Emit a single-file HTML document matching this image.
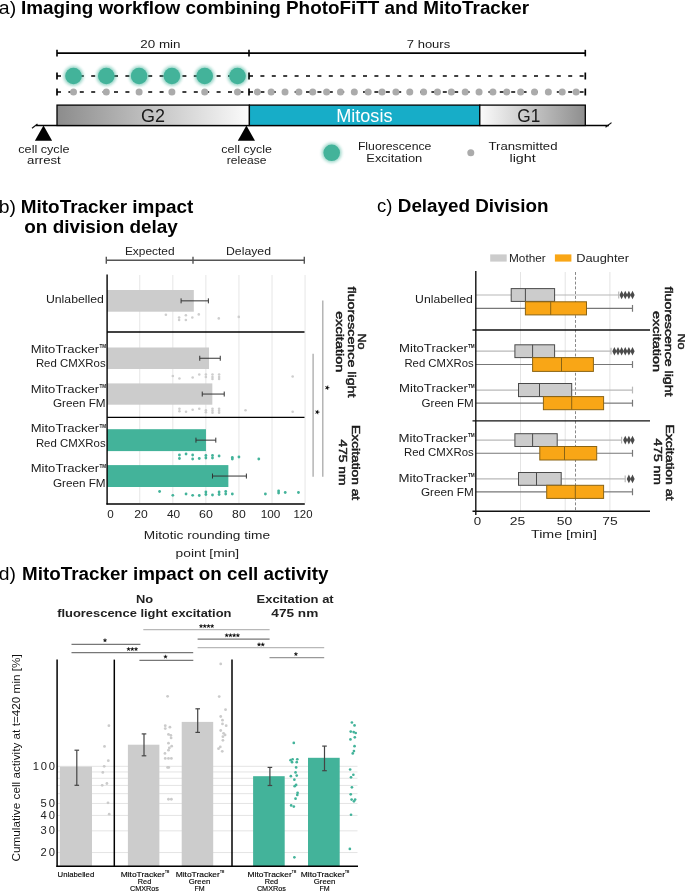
<!DOCTYPE html>
<html><head><meta charset="utf-8"><title>Figure</title>
<style>
html,body{margin:0;padding:0;background:#fff;}
body{width:685px;height:892px;overflow:hidden;font-family:"Liberation Sans",sans-serif;}
svg{display:block;font-family:"Liberation Sans",sans-serif;}
</style></head><body>
<svg width="685" height="892" viewBox="0 0 685 892">
<rect width="685" height="892" fill="#fff"/>
<g opacity="0.999">
<defs>
<linearGradient id="g2" x1="0" x2="1" y1="0" y2="0"><stop offset="0" stop-color="#8c8c8c"/><stop offset="1" stop-color="#fbfbfb"/></linearGradient>
<linearGradient id="g1" x1="0" x2="1" y1="0" y2="0"><stop offset="0" stop-color="#fbfbfb"/><stop offset="1" stop-color="#8e8e8e"/></linearGradient>
<filter id="glow" x="-50%" y="-50%" width="200%" height="200%"><feGaussianBlur stdDeviation="1.6"/></filter>
</defs>
<text x="-1.20" y="14.20" font-size="18.7" text-anchor="start" font-weight="normal" fill="#000"  textLength="17.30" lengthAdjust="spacingAndGlyphs">a)</text>
<text x="20.90" y="14.20" font-size="18.7" text-anchor="start" font-weight="bold" fill="#000"  textLength="508.30" lengthAdjust="spacingAndGlyphs">Imaging workflow combining PhotoFiTT and MitoTracker</text>
<line x1="57.00" y1="53.10" x2="585.30" y2="53.10" stroke="#000" stroke-width="1.6" />
<line x1="57.00" y1="49.80" x2="57.00" y2="56.40" stroke="#000" stroke-width="1.6" />
<line x1="249.00" y1="49.80" x2="249.00" y2="56.40" stroke="#000" stroke-width="1.6" />
<line x1="585.30" y1="49.80" x2="585.30" y2="56.40" stroke="#000" stroke-width="1.6" />
<text x="140.30" y="47.60" font-size="11.5" text-anchor="start" font-weight="normal" fill="#1a1a1a"  textLength="40.20" lengthAdjust="spacingAndGlyphs">20 min</text>
<text x="406.80" y="47.60" font-size="11.5" text-anchor="start" font-weight="normal" fill="#1a1a1a"  textLength="43.40" lengthAdjust="spacingAndGlyphs">7 hours</text>
<line x1="57.00" y1="76.00" x2="249.00" y2="76.00" stroke="#000" stroke-width="1.5" stroke-dasharray="4 7.4"/>
<line x1="249.00" y1="76.00" x2="585.30" y2="76.00" stroke="#000" stroke-width="1.5" stroke-dasharray="4 7.4"/>
<line x1="57.00" y1="92.00" x2="249.00" y2="92.00" stroke="#000" stroke-width="1.5" stroke-dasharray="4 7.4"/>
<line x1="249.00" y1="92.00" x2="585.30" y2="92.00" stroke="#000" stroke-width="1.5" stroke-dasharray="4 7.4"/>
<line x1="57.00" y1="72.50" x2="57.00" y2="79.50" stroke="#000" stroke-width="1.7" />
<line x1="57.00" y1="88.50" x2="57.00" y2="95.50" stroke="#000" stroke-width="1.7" />
<line x1="249.00" y1="72.50" x2="249.00" y2="79.50" stroke="#000" stroke-width="1.7" />
<line x1="249.00" y1="88.50" x2="249.00" y2="95.50" stroke="#000" stroke-width="1.7" />
<line x1="585.30" y1="72.50" x2="585.30" y2="79.50" stroke="#000" stroke-width="1.7" />
<line x1="585.30" y1="88.50" x2="585.30" y2="95.50" stroke="#000" stroke-width="1.7" />
<circle cx="73.50" cy="76.00" r="10" fill="#43b39a" opacity="0.55" filter="url(#glow)"/>
<circle cx="73.50" cy="76.00" r="8.3" fill="#43b39a" />
<circle cx="73.50" cy="92.00" r="3.5" fill="#ababab" />
<circle cx="106.30" cy="76.00" r="10" fill="#43b39a" opacity="0.55" filter="url(#glow)"/>
<circle cx="106.30" cy="76.00" r="8.3" fill="#43b39a" />
<circle cx="106.30" cy="92.00" r="3.5" fill="#ababab" />
<circle cx="139.10" cy="76.00" r="10" fill="#43b39a" opacity="0.55" filter="url(#glow)"/>
<circle cx="139.10" cy="76.00" r="8.3" fill="#43b39a" />
<circle cx="139.10" cy="92.00" r="3.5" fill="#ababab" />
<circle cx="171.90" cy="76.00" r="10" fill="#43b39a" opacity="0.55" filter="url(#glow)"/>
<circle cx="171.90" cy="76.00" r="8.3" fill="#43b39a" />
<circle cx="171.90" cy="92.00" r="3.5" fill="#ababab" />
<circle cx="204.70" cy="76.00" r="10" fill="#43b39a" opacity="0.55" filter="url(#glow)"/>
<circle cx="204.70" cy="76.00" r="8.3" fill="#43b39a" />
<circle cx="204.70" cy="92.00" r="3.5" fill="#ababab" />
<circle cx="237.50" cy="76.00" r="10" fill="#43b39a" opacity="0.55" filter="url(#glow)"/>
<circle cx="237.50" cy="76.00" r="8.3" fill="#43b39a" />
<circle cx="237.50" cy="92.00" r="3.5" fill="#ababab" />
<circle cx="257.30" cy="92.00" r="3.5" fill="#ababab" />
<circle cx="271.16" cy="92.00" r="3.5" fill="#ababab" />
<circle cx="285.02" cy="92.00" r="3.5" fill="#ababab" />
<circle cx="298.88" cy="92.00" r="3.5" fill="#ababab" />
<circle cx="312.74" cy="92.00" r="3.5" fill="#ababab" />
<circle cx="326.60" cy="92.00" r="3.5" fill="#ababab" />
<circle cx="340.46" cy="92.00" r="3.5" fill="#ababab" />
<circle cx="354.32" cy="92.00" r="3.5" fill="#ababab" />
<circle cx="368.18" cy="92.00" r="3.5" fill="#ababab" />
<circle cx="382.04" cy="92.00" r="3.5" fill="#ababab" />
<circle cx="395.90" cy="92.00" r="3.5" fill="#ababab" />
<circle cx="409.76" cy="92.00" r="3.5" fill="#ababab" />
<circle cx="423.62" cy="92.00" r="3.5" fill="#ababab" />
<circle cx="437.48" cy="92.00" r="3.5" fill="#ababab" />
<circle cx="451.34" cy="92.00" r="3.5" fill="#ababab" />
<circle cx="465.20" cy="92.00" r="3.5" fill="#ababab" />
<circle cx="479.06" cy="92.00" r="3.5" fill="#ababab" />
<circle cx="492.92" cy="92.00" r="3.5" fill="#ababab" />
<circle cx="506.78" cy="92.00" r="3.5" fill="#ababab" />
<circle cx="520.64" cy="92.00" r="3.5" fill="#ababab" />
<circle cx="534.50" cy="92.00" r="3.5" fill="#ababab" />
<circle cx="548.36" cy="92.00" r="3.5" fill="#ababab" />
<circle cx="562.22" cy="92.00" r="3.5" fill="#ababab" />
<circle cx="576.08" cy="92.00" r="3.5" fill="#ababab" />
<line x1="36.00" y1="125.50" x2="609.00" y2="125.50" stroke="#000" stroke-width="1.3" />
<line x1="32.00" y1="128.30" x2="37.50" y2="124.00" stroke="#111" stroke-width="1.2" />
<line x1="605.50" y1="127.30" x2="611.50" y2="122.60" stroke="#111" stroke-width="1.2" />
<rect x="57.00" y="105.10" width="192.40" height="20.40" fill="url(#g2)" stroke="#000" stroke-width="1.3" />
<rect x="249.40" y="105.10" width="230.40" height="20.40" fill="#17adc8" stroke="#000" stroke-width="1.3" />
<rect x="479.80" y="105.10" width="105.50" height="20.40" fill="url(#g1)" stroke="#000" stroke-width="1.3" />
<text x="141.00" y="121.60" font-size="17.8" text-anchor="start" font-weight="normal" fill="#1a1a1a"  textLength="24.00" lengthAdjust="spacingAndGlyphs">G2</text>
<text x="336.20" y="121.60" font-size="17.8" text-anchor="start" font-weight="normal" fill="#fff"  textLength="56.30" lengthAdjust="spacingAndGlyphs">Mitosis</text>
<text x="517.30" y="121.60" font-size="17.8" text-anchor="start" font-weight="normal" fill="#1a1a1a"  textLength="23.10" lengthAdjust="spacingAndGlyphs">G1</text>
<polygon points="43.5,125.6 34.9,140.7 52.1,140.7" fill="#000"/>
<polygon points="246.4,125.6 237.8,140.7 255.0,140.7" fill="#000"/>
<text x="18.30" y="152.80" font-size="11.5" text-anchor="start" font-weight="normal" fill="#1a1a1a"  textLength="51.20" lengthAdjust="spacingAndGlyphs">cell cycle</text>
<text x="27.10" y="164.00" font-size="11.5" text-anchor="start" font-weight="normal" fill="#1a1a1a"  textLength="33.70" lengthAdjust="spacingAndGlyphs">arrest</text>
<text x="221.20" y="152.80" font-size="11.5" text-anchor="start" font-weight="normal" fill="#1a1a1a"  textLength="50.80" lengthAdjust="spacingAndGlyphs">cell cycle</text>
<text x="226.80" y="164.00" font-size="11.5" text-anchor="start" font-weight="normal" fill="#1a1a1a"  textLength="39.60" lengthAdjust="spacingAndGlyphs">release</text>
<circle cx="331.70" cy="152.80" r="10" fill="#43b39a" opacity="0.5" filter="url(#glow)"/>
<circle cx="331.70" cy="152.80" r="8.3" fill="#43b39a" />
<text x="357.90" y="150.40" font-size="11.5" text-anchor="start" font-weight="normal" fill="#1a1a1a"  textLength="73.50" lengthAdjust="spacingAndGlyphs">Fluorescence</text>
<text x="366.30" y="161.60" font-size="11.5" text-anchor="start" font-weight="normal" fill="#1a1a1a"  textLength="56.00" lengthAdjust="spacingAndGlyphs">Excitation</text>
<circle cx="470.80" cy="152.80" r="3.5" fill="#ababab" />
<text x="488.50" y="150.40" font-size="11.5" text-anchor="start" font-weight="normal" fill="#1a1a1a"  textLength="69.00" lengthAdjust="spacingAndGlyphs">Transmitted</text>
<text x="509.50" y="161.60" font-size="11.5" text-anchor="start" font-weight="normal" fill="#1a1a1a"  textLength="26.30" lengthAdjust="spacingAndGlyphs">light</text>
<text x="-1.20" y="213.20" font-size="18.7" text-anchor="start" font-weight="normal" fill="#000"  textLength="17.20" lengthAdjust="spacingAndGlyphs">b)</text>
<text x="20.80" y="213.20" font-size="18.7" text-anchor="start" font-weight="bold" fill="#000"  textLength="172.50" lengthAdjust="spacingAndGlyphs">MitoTracker impact</text>
<text x="24.30" y="232.50" font-size="18.7" text-anchor="start" font-weight="bold" fill="#000"  textLength="153.60" lengthAdjust="spacingAndGlyphs">on division delay</text>
<line x1="106.00" y1="260.20" x2="304.50" y2="260.20" stroke="#555" stroke-width="1.4" />
<line x1="106.30" y1="256.70" x2="106.30" y2="263.70" stroke="#555" stroke-width="1.4" />
<line x1="193.00" y1="256.70" x2="193.00" y2="263.70" stroke="#555" stroke-width="1.4" />
<line x1="304.30" y1="256.70" x2="304.30" y2="263.70" stroke="#555" stroke-width="1.4" />
<text x="124.90" y="254.60" font-size="11.5" text-anchor="start" font-weight="normal" fill="#222"  textLength="49.70" lengthAdjust="spacingAndGlyphs">Expected</text>
<text x="226.00" y="254.60" font-size="11.5" text-anchor="start" font-weight="normal" fill="#222"  textLength="45.00" lengthAdjust="spacingAndGlyphs">Delayed</text>
<line x1="139.76" y1="275.00" x2="139.76" y2="503.00" stroke="#e6e6e6" stroke-width="1" />
<line x1="172.82" y1="275.00" x2="172.82" y2="503.00" stroke="#e6e6e6" stroke-width="1" />
<line x1="205.88" y1="275.00" x2="205.88" y2="503.00" stroke="#e6e6e6" stroke-width="1" />
<line x1="238.94" y1="275.00" x2="238.94" y2="503.00" stroke="#e6e6e6" stroke-width="1" />
<line x1="272.00" y1="275.00" x2="272.00" y2="503.00" stroke="#e6e6e6" stroke-width="1" />
<line x1="305.06" y1="275.00" x2="305.06" y2="503.00" stroke="#e6e6e6" stroke-width="1" />
<rect x="107.10" y="290.00" width="86.71" height="21.70" fill="#cccccc" stroke="none" stroke-width="0" />
<line x1="181.09" y1="300.85" x2="208.36" y2="300.85" stroke="#333" stroke-width="1" />
<line x1="181.09" y1="298.35" x2="181.09" y2="303.35" stroke="#333" stroke-width="1" />
<line x1="208.36" y1="298.35" x2="208.36" y2="303.35" stroke="#333" stroke-width="1" />
<rect x="107.10" y="347.50" width="101.92" height="21.50" fill="#cccccc" stroke="none" stroke-width="0" />
<line x1="199.76" y1="358.25" x2="220.26" y2="358.25" stroke="#333" stroke-width="1" />
<line x1="199.76" y1="355.75" x2="199.76" y2="360.75" stroke="#333" stroke-width="1" />
<line x1="220.26" y1="355.75" x2="220.26" y2="360.75" stroke="#333" stroke-width="1" />
<rect x="107.10" y="383.40" width="105.23" height="21.30" fill="#cccccc" stroke="none" stroke-width="0" />
<line x1="202.24" y1="394.05" x2="224.23" y2="394.05" stroke="#333" stroke-width="1" />
<line x1="202.24" y1="391.55" x2="202.24" y2="396.55" stroke="#333" stroke-width="1" />
<line x1="224.23" y1="391.55" x2="224.23" y2="396.55" stroke="#333" stroke-width="1" />
<rect x="107.10" y="429.20" width="98.86" height="21.90" fill="#43b39a" stroke="none" stroke-width="0" />
<line x1="195.96" y1="440.15" x2="215.80" y2="440.15" stroke="#333" stroke-width="1" />
<line x1="195.96" y1="437.65" x2="195.96" y2="442.65" stroke="#333" stroke-width="1" />
<line x1="215.80" y1="437.65" x2="215.80" y2="442.65" stroke="#333" stroke-width="1" />
<rect x="107.10" y="465.10" width="121.26" height="21.90" fill="#43b39a" stroke="none" stroke-width="0" />
<line x1="212.49" y1="476.05" x2="246.38" y2="476.05" stroke="#333" stroke-width="1" />
<line x1="212.49" y1="473.55" x2="212.49" y2="478.55" stroke="#333" stroke-width="1" />
<line x1="246.38" y1="473.55" x2="246.38" y2="478.55" stroke="#333" stroke-width="1" />
<circle cx="165.88" cy="314.70" r="1.3" fill="#cecece" />
<circle cx="179.10" cy="317.50" r="1.3" fill="#cecece" />
<circle cx="179.10" cy="320.00" r="1.3" fill="#cecece" />
<circle cx="185.88" cy="315.30" r="1.3" fill="#cecece" />
<circle cx="185.88" cy="320.00" r="1.3" fill="#cecece" />
<circle cx="192.33" cy="317.50" r="1.3" fill="#cecece" />
<circle cx="198.77" cy="314.40" r="1.3" fill="#cecece" />
<circle cx="218.77" cy="318.40" r="1.3" fill="#cecece" />
<circle cx="238.77" cy="316.90" r="1.3" fill="#cecece" />
<circle cx="172.82" cy="376.00" r="1.3" fill="#cecece" />
<circle cx="179.43" cy="378.50" r="1.3" fill="#cecece" />
<circle cx="192.66" cy="377.50" r="1.3" fill="#cecece" />
<circle cx="199.27" cy="374.50" r="1.3" fill="#cecece" />
<circle cx="205.88" cy="374.50" r="1.3" fill="#cecece" />
<circle cx="205.88" cy="377.00" r="1.3" fill="#cecece" />
<circle cx="212.49" cy="374.50" r="1.3" fill="#cecece" />
<circle cx="212.49" cy="377.00" r="1.3" fill="#cecece" />
<circle cx="212.49" cy="379.00" r="1.3" fill="#cecece" />
<circle cx="219.10" cy="374.50" r="1.3" fill="#cecece" />
<circle cx="219.10" cy="377.00" r="1.3" fill="#cecece" />
<circle cx="219.10" cy="379.00" r="1.3" fill="#cecece" />
<circle cx="292.66" cy="376.50" r="1.3" fill="#cecece" />
<circle cx="179.43" cy="408.80" r="1.3" fill="#cecece" />
<circle cx="179.43" cy="411.30" r="1.3" fill="#cecece" />
<circle cx="186.04" cy="411.80" r="1.3" fill="#cecece" />
<circle cx="192.66" cy="409.80" r="1.3" fill="#cecece" />
<circle cx="199.27" cy="408.80" r="1.3" fill="#cecece" />
<circle cx="205.88" cy="410.30" r="1.3" fill="#cecece" />
<circle cx="205.88" cy="412.30" r="1.3" fill="#cecece" />
<circle cx="212.49" cy="408.80" r="1.3" fill="#cecece" />
<circle cx="212.49" cy="410.80" r="1.3" fill="#cecece" />
<circle cx="212.49" cy="412.80" r="1.3" fill="#cecece" />
<circle cx="219.10" cy="408.80" r="1.3" fill="#cecece" />
<circle cx="219.10" cy="410.80" r="1.3" fill="#cecece" />
<circle cx="219.10" cy="412.80" r="1.3" fill="#cecece" />
<circle cx="245.55" cy="410.30" r="1.3" fill="#cecece" />
<circle cx="292.66" cy="411.80" r="1.3" fill="#cecece" />
<circle cx="179.43" cy="455.00" r="1.4" fill="#43b39a" />
<circle cx="179.43" cy="458.50" r="1.4" fill="#43b39a" />
<circle cx="186.04" cy="454.00" r="1.4" fill="#43b39a" />
<circle cx="192.66" cy="455.00" r="1.4" fill="#43b39a" />
<circle cx="192.66" cy="459.00" r="1.4" fill="#43b39a" />
<circle cx="199.27" cy="458.50" r="1.4" fill="#43b39a" />
<circle cx="205.88" cy="455.50" r="1.4" fill="#43b39a" />
<circle cx="205.88" cy="458.00" r="1.4" fill="#43b39a" />
<circle cx="212.49" cy="455.50" r="1.4" fill="#43b39a" />
<circle cx="212.49" cy="458.00" r="1.4" fill="#43b39a" />
<circle cx="219.10" cy="456.00" r="1.4" fill="#43b39a" />
<circle cx="232.33" cy="457.50" r="1.4" fill="#43b39a" />
<circle cx="232.33" cy="459.00" r="1.4" fill="#43b39a" />
<circle cx="238.94" cy="457.00" r="1.4" fill="#43b39a" />
<circle cx="258.78" cy="459.00" r="1.4" fill="#43b39a" />
<circle cx="159.60" cy="491.50" r="1.4" fill="#43b39a" />
<circle cx="172.82" cy="495.30" r="1.4" fill="#43b39a" />
<circle cx="186.04" cy="494.00" r="1.4" fill="#43b39a" />
<circle cx="192.66" cy="495.30" r="1.4" fill="#43b39a" />
<circle cx="199.27" cy="495.50" r="1.4" fill="#43b39a" />
<circle cx="205.88" cy="492.00" r="1.4" fill="#43b39a" />
<circle cx="205.88" cy="494.50" r="1.4" fill="#43b39a" />
<circle cx="212.49" cy="495.00" r="1.4" fill="#43b39a" />
<circle cx="219.10" cy="492.00" r="1.4" fill="#43b39a" />
<circle cx="219.10" cy="494.50" r="1.4" fill="#43b39a" />
<circle cx="225.72" cy="491.50" r="1.4" fill="#43b39a" />
<circle cx="225.72" cy="494.00" r="1.4" fill="#43b39a" />
<circle cx="232.33" cy="494.00" r="1.4" fill="#43b39a" />
<circle cx="265.39" cy="494.00" r="1.4" fill="#43b39a" />
<circle cx="278.61" cy="491.00" r="1.4" fill="#43b39a" />
<circle cx="278.61" cy="493.00" r="1.4" fill="#43b39a" />
<circle cx="285.22" cy="492.50" r="1.4" fill="#43b39a" />
<circle cx="298.45" cy="492.50" r="1.4" fill="#43b39a" />
<line x1="107.10" y1="274.50" x2="107.10" y2="504.60" stroke="#000" stroke-width="1.4" />
<line x1="106.40" y1="504.00" x2="304.80" y2="504.00" stroke="#000" stroke-width="1.4" />
<line x1="107.10" y1="332.00" x2="304.50" y2="332.00" stroke="#000" stroke-width="1.3" />
<line x1="107.10" y1="417.40" x2="304.50" y2="417.40" stroke="#000" stroke-width="1.3" />
<text x="107.20" y="518.10" font-size="11.2" text-anchor="start" font-weight="normal" fill="#222"  textLength="6.50" lengthAdjust="spacingAndGlyphs">0</text>
<text x="134.20" y="518.10" font-size="11.2" text-anchor="start" font-weight="normal" fill="#222"  textLength="13.50" lengthAdjust="spacingAndGlyphs">20</text>
<text x="166.90" y="518.10" font-size="11.2" text-anchor="start" font-weight="normal" fill="#222"  textLength="13.20" lengthAdjust="spacingAndGlyphs">40</text>
<text x="199.10" y="518.10" font-size="11.2" text-anchor="start" font-weight="normal" fill="#222"  textLength="13.80" lengthAdjust="spacingAndGlyphs">60</text>
<text x="232.10" y="518.10" font-size="11.2" text-anchor="start" font-weight="normal" fill="#222"  textLength="13.60" lengthAdjust="spacingAndGlyphs">80</text>
<text x="260.70" y="518.10" font-size="11.2" text-anchor="start" font-weight="normal" fill="#222"  textLength="19.60" lengthAdjust="spacingAndGlyphs">100</text>
<text x="293.50" y="518.10" font-size="11.2" text-anchor="start" font-weight="normal" fill="#222"  textLength="19.00" lengthAdjust="spacingAndGlyphs">120</text>
<text x="143.80" y="539.30" font-size="11.5" text-anchor="start" font-weight="normal" fill="#222"  textLength="126.30" lengthAdjust="spacingAndGlyphs">Mitotic rounding time</text>
<text x="175.60" y="556.70" font-size="11.5" text-anchor="start" font-weight="normal" fill="#222"  textLength="63.60" lengthAdjust="spacingAndGlyphs">point [min]</text>
<text x="45.90" y="302.80" font-size="11.5" text-anchor="start" font-weight="normal" fill="#1a1a1a"  textLength="58.00" lengthAdjust="spacingAndGlyphs">Unlabelled</text>
<text x="30.70" y="352.70" font-size="11.5" text-anchor="start" font-weight="normal" fill="#1a1a1a"  textLength="68.54" lengthAdjust="spacingAndGlyphs">MitoTracker</text>
<text x="99.39" y="348.21" font-size="5.75" text-anchor="start" font-weight="bold" fill="#1a1a1a"  textLength="6.71" lengthAdjust="spacingAndGlyphs">TM</text>
<text x="35.90" y="366.70" font-size="11.5" text-anchor="start" font-weight="normal" fill="#1a1a1a"  textLength="69.70" lengthAdjust="spacingAndGlyphs">Red CMXRos</text>
<text x="30.70" y="392.50" font-size="11.5" text-anchor="start" font-weight="normal" fill="#1a1a1a"  textLength="68.54" lengthAdjust="spacingAndGlyphs">MitoTracker</text>
<text x="99.39" y="388.01" font-size="5.75" text-anchor="start" font-weight="bold" fill="#1a1a1a"  textLength="6.71" lengthAdjust="spacingAndGlyphs">TM</text>
<text x="52.90" y="407.00" font-size="11.5" text-anchor="start" font-weight="normal" fill="#1a1a1a"  textLength="52.70" lengthAdjust="spacingAndGlyphs">Green FM</text>
<text x="30.70" y="432.40" font-size="11.5" text-anchor="start" font-weight="normal" fill="#1a1a1a"  textLength="68.54" lengthAdjust="spacingAndGlyphs">MitoTracker</text>
<text x="99.39" y="427.91" font-size="5.75" text-anchor="start" font-weight="bold" fill="#1a1a1a"  textLength="6.71" lengthAdjust="spacingAndGlyphs">TM</text>
<text x="35.90" y="446.80" font-size="11.5" text-anchor="start" font-weight="normal" fill="#1a1a1a"  textLength="69.70" lengthAdjust="spacingAndGlyphs">Red CMXRos</text>
<text x="30.70" y="472.40" font-size="11.5" text-anchor="start" font-weight="normal" fill="#1a1a1a"  textLength="68.54" lengthAdjust="spacingAndGlyphs">MitoTracker</text>
<text x="99.39" y="467.91" font-size="5.75" text-anchor="start" font-weight="bold" fill="#1a1a1a"  textLength="6.71" lengthAdjust="spacingAndGlyphs">TM</text>
<text x="52.90" y="486.80" font-size="11.5" text-anchor="start" font-weight="normal" fill="#1a1a1a"  textLength="52.70" lengthAdjust="spacingAndGlyphs">Green FM</text>
<line x1="322.80" y1="300.40" x2="322.80" y2="476.70" stroke="#a8a8a8" stroke-width="1.3" />
<line x1="313.10" y1="353.70" x2="313.10" y2="476.70" stroke="#a8a8a8" stroke-width="1.3" />
<polygon points="329.50,387.70 327.85,388.17 327.91,389.89 326.95,388.46 325.34,389.05 326.40,387.70 325.34,386.35 326.95,386.94 327.91,385.51 327.85,387.23" fill="#000" stroke="#000" stroke-width="0.35" stroke-linejoin="round"/>
<polygon points="319.60,412.10 317.95,412.57 318.01,414.29 317.05,412.86 315.44,413.45 316.50,412.10 315.44,410.75 317.05,411.34 318.01,409.91 317.95,411.63" fill="#000" stroke="#000" stroke-width="0.35" stroke-linejoin="round"/>
<text transform="translate(358.21,333.50) rotate(90)" font-size="11.5" font-weight="normal" fill="#1c1c1c" stroke="#1c1c1c" stroke-width="0.5" textLength="16.00" lengthAdjust="spacingAndGlyphs">No</text>
<text transform="translate(348.01,286.50) rotate(90)" font-size="11.5" font-weight="normal" fill="#1c1c1c" stroke="#1c1c1c" stroke-width="0.5" textLength="111.00" lengthAdjust="spacingAndGlyphs">fluorescence light</text>
<text transform="translate(335.81,311.20) rotate(90)" font-size="11.5" font-weight="normal" fill="#1c1c1c" stroke="#1c1c1c" stroke-width="0.5" textLength="61.00" lengthAdjust="spacingAndGlyphs">excitation</text>
<text transform="translate(351.81,425.10) rotate(90)" font-size="11.5" font-weight="normal" fill="#1c1c1c" stroke="#1c1c1c" stroke-width="0.5" textLength="75.10" lengthAdjust="spacingAndGlyphs">Excitation at</text>
<text transform="translate(339.31,439.50) rotate(90)" font-size="11.5" font-weight="normal" fill="#1c1c1c" stroke="#1c1c1c" stroke-width="0.5" textLength="46.00" lengthAdjust="spacingAndGlyphs">475 nm</text>
<text x="377.00" y="211.80" font-size="18.7" text-anchor="start" font-weight="normal" fill="#000"  textLength="15.40" lengthAdjust="spacingAndGlyphs">c)</text>
<text x="397.80" y="211.80" font-size="18.7" text-anchor="start" font-weight="bold" fill="#000"  textLength="150.70" lengthAdjust="spacingAndGlyphs">Delayed Division</text>
<rect x="490.20" y="254.40" width="16.50" height="7.20" fill="#cccccc" stroke="none" stroke-width="0" />
<text x="509.00" y="261.60" font-size="11.5" text-anchor="start" font-weight="normal" fill="#222"  textLength="36.70" lengthAdjust="spacingAndGlyphs">Mother</text>
<rect x="554.90" y="254.40" width="16.50" height="7.20" fill="#f9a616" stroke="none" stroke-width="0" />
<text x="576.20" y="261.60" font-size="11.5" text-anchor="start" font-weight="normal" fill="#222"  textLength="52.80" lengthAdjust="spacingAndGlyphs">Daughter</text>
<line x1="520.50" y1="272.00" x2="520.50" y2="511.00" stroke="#e4e4e4" stroke-width="1" />
<line x1="565.20" y1="272.00" x2="565.20" y2="511.00" stroke="#e4e4e4" stroke-width="1" />
<line x1="609.90" y1="272.00" x2="609.90" y2="511.00" stroke="#e4e4e4" stroke-width="1" />
<line x1="575.50" y1="272.00" x2="575.50" y2="511.00" stroke="#888" stroke-width="1" stroke-dasharray="2.9 1.9"/>
<line x1="475.80" y1="295.00" x2="511.20" y2="295.00" stroke="#b8b8b8" stroke-width="1.2" />
<line x1="554.60" y1="295.00" x2="618.70" y2="295.00" stroke="#b8b8b8" stroke-width="1.2" />
<line x1="618.70" y1="291.60" x2="618.70" y2="298.40" stroke="#b8b8b8" stroke-width="1.2" />
<rect x="511.20" y="288.60" width="43.40" height="12.80" fill="#cccccc" stroke="#4a4a4a" stroke-width="1" />
<line x1="525.40" y1="288.60" x2="525.40" y2="301.40" stroke="#4a4a4a" stroke-width="1" />
<polygon points="621.64,290.70 623.79,295.00 621.64,299.30 619.49,295.00" fill="#4a4a4a"/>
<polygon points="625.26,290.70 627.41,295.00 625.26,299.30 623.11,295.00" fill="#4a4a4a"/>
<polygon points="628.88,290.70 631.03,295.00 628.88,299.30 626.73,295.00" fill="#4a4a4a"/>
<polygon points="632.50,290.70 634.65,295.00 632.50,299.30 630.35,295.00" fill="#4a4a4a"/>
<line x1="475.80" y1="308.35" x2="525.40" y2="308.35" stroke="#777" stroke-width="1.2" />
<line x1="586.50" y1="308.35" x2="632.50" y2="308.35" stroke="#777" stroke-width="1.2" />
<line x1="632.50" y1="304.95" x2="632.50" y2="311.75" stroke="#777" stroke-width="1.2" />
<rect x="525.40" y="301.80" width="61.10" height="13.10" fill="#f9a616" stroke="#8a6414" stroke-width="1" />
<line x1="550.70" y1="301.80" x2="550.70" y2="314.90" stroke="#8a6414" stroke-width="1" />
<line x1="475.80" y1="351.20" x2="514.90" y2="351.20" stroke="#b8b8b8" stroke-width="1.2" />
<line x1="554.60" y1="351.20" x2="611.00" y2="351.20" stroke="#b8b8b8" stroke-width="1.2" />
<line x1="611.00" y1="347.80" x2="611.00" y2="354.60" stroke="#b8b8b8" stroke-width="1.2" />
<rect x="514.90" y="344.80" width="39.70" height="12.80" fill="#cccccc" stroke="#4a4a4a" stroke-width="1" />
<line x1="532.60" y1="344.80" x2="532.60" y2="357.60" stroke="#4a4a4a" stroke-width="1" />
<polygon points="614.40,346.90 616.55,351.20 614.40,355.50 612.25,351.20" fill="#4a4a4a"/>
<polygon points="618.02,346.90 620.17,351.20 618.02,355.50 615.87,351.20" fill="#4a4a4a"/>
<polygon points="621.64,346.90 623.79,351.20 621.64,355.50 619.49,351.20" fill="#4a4a4a"/>
<polygon points="625.26,346.90 627.41,351.20 625.26,355.50 623.11,351.20" fill="#4a4a4a"/>
<polygon points="628.88,346.90 631.03,351.20 628.88,355.50 626.73,351.20" fill="#4a4a4a"/>
<polygon points="632.50,346.90 634.65,351.20 632.50,355.50 630.35,351.20" fill="#4a4a4a"/>
<line x1="475.80" y1="364.50" x2="532.60" y2="364.50" stroke="#777" stroke-width="1.2" />
<line x1="593.40" y1="364.50" x2="632.50" y2="364.50" stroke="#777" stroke-width="1.2" />
<line x1="632.50" y1="361.10" x2="632.50" y2="367.90" stroke="#777" stroke-width="1.2" />
<rect x="532.60" y="357.60" width="60.80" height="13.80" fill="#f9a616" stroke="#8a6414" stroke-width="1" />
<line x1="561.50" y1="357.60" x2="561.50" y2="371.40" stroke="#8a6414" stroke-width="1" />
<line x1="475.80" y1="390.05" x2="518.50" y2="390.05" stroke="#b8b8b8" stroke-width="1.2" />
<line x1="571.70" y1="390.05" x2="632.50" y2="390.05" stroke="#b8b8b8" stroke-width="1.2" />
<line x1="632.50" y1="386.65" x2="632.50" y2="393.45" stroke="#b8b8b8" stroke-width="1.2" />
<rect x="518.50" y="383.50" width="53.20" height="13.10" fill="#cccccc" stroke="#4a4a4a" stroke-width="1" />
<line x1="539.50" y1="383.50" x2="539.50" y2="396.60" stroke="#4a4a4a" stroke-width="1" />
<line x1="475.80" y1="403.15" x2="543.40" y2="403.15" stroke="#777" stroke-width="1.2" />
<line x1="603.60" y1="403.15" x2="632.50" y2="403.15" stroke="#777" stroke-width="1.2" />
<line x1="632.50" y1="399.75" x2="632.50" y2="406.55" stroke="#777" stroke-width="1.2" />
<rect x="543.40" y="396.60" width="60.20" height="13.10" fill="#f9a616" stroke="#8a6414" stroke-width="1" />
<line x1="571.70" y1="396.60" x2="571.70" y2="409.70" stroke="#8a6414" stroke-width="1" />
<line x1="475.80" y1="440.10" x2="514.90" y2="440.10" stroke="#b8b8b8" stroke-width="1.2" />
<line x1="557.20" y1="440.10" x2="621.60" y2="440.10" stroke="#b8b8b8" stroke-width="1.2" />
<line x1="621.60" y1="436.70" x2="621.60" y2="443.50" stroke="#b8b8b8" stroke-width="1.2" />
<rect x="514.90" y="433.70" width="42.30" height="12.80" fill="#cccccc" stroke="#4a4a4a" stroke-width="1" />
<line x1="532.60" y1="433.70" x2="532.60" y2="446.50" stroke="#4a4a4a" stroke-width="1" />
<polygon points="625.26,435.80 627.41,440.10 625.26,444.40 623.11,440.10" fill="#4a4a4a"/>
<polygon points="628.88,435.80 631.03,440.10 628.88,444.40 626.73,440.10" fill="#4a4a4a"/>
<polygon points="632.50,435.80 634.65,440.10 632.50,444.40 630.35,440.10" fill="#4a4a4a"/>
<line x1="475.80" y1="453.25" x2="539.80" y2="453.25" stroke="#777" stroke-width="1.2" />
<line x1="596.70" y1="453.25" x2="632.50" y2="453.25" stroke="#777" stroke-width="1.2" />
<line x1="632.50" y1="449.85" x2="632.50" y2="456.65" stroke="#777" stroke-width="1.2" />
<rect x="539.80" y="446.50" width="56.90" height="13.50" fill="#f9a616" stroke="#8a6414" stroke-width="1" />
<line x1="564.50" y1="446.50" x2="564.50" y2="460.00" stroke="#8a6414" stroke-width="1" />
<line x1="475.80" y1="478.90" x2="518.50" y2="478.90" stroke="#b8b8b8" stroke-width="1.2" />
<line x1="561.20" y1="478.90" x2="625.20" y2="478.90" stroke="#b8b8b8" stroke-width="1.2" />
<line x1="625.20" y1="475.50" x2="625.20" y2="482.30" stroke="#b8b8b8" stroke-width="1.2" />
<rect x="518.50" y="472.50" width="42.70" height="12.80" fill="#cccccc" stroke="#4a4a4a" stroke-width="1" />
<line x1="536.50" y1="472.50" x2="536.50" y2="485.30" stroke="#4a4a4a" stroke-width="1" />
<polygon points="628.88,474.60 631.03,478.90 628.88,483.20 626.73,478.90" fill="#4a4a4a"/>
<polygon points="632.50,474.60 634.65,478.90 632.50,483.20 630.35,478.90" fill="#4a4a4a"/>
<line x1="475.80" y1="491.85" x2="546.70" y2="491.85" stroke="#777" stroke-width="1.2" />
<line x1="603.60" y1="491.85" x2="632.50" y2="491.85" stroke="#777" stroke-width="1.2" />
<line x1="632.50" y1="488.45" x2="632.50" y2="495.25" stroke="#777" stroke-width="1.2" />
<rect x="546.70" y="485.30" width="56.90" height="13.10" fill="#f9a616" stroke="#8a6414" stroke-width="1" />
<line x1="575.30" y1="485.30" x2="575.30" y2="498.40" stroke="#8a6414" stroke-width="1" />
<line x1="475.80" y1="271.00" x2="475.80" y2="515.00" stroke="#111" stroke-width="1.4" />
<line x1="472.50" y1="511.20" x2="650.00" y2="511.20" stroke="#111" stroke-width="1.4" />
<line x1="472.50" y1="330.00" x2="650.00" y2="330.00" stroke="#111" stroke-width="1.3" />
<line x1="472.50" y1="420.90" x2="650.00" y2="420.90" stroke="#111" stroke-width="1.3" />
<text x="473.80" y="524.80" font-size="11.2" text-anchor="start" font-weight="normal" fill="#222"  textLength="7.40" lengthAdjust="spacingAndGlyphs">0</text>
<text x="509.75" y="524.80" font-size="11.2" text-anchor="start" font-weight="normal" fill="#222"  textLength="15.50" lengthAdjust="spacingAndGlyphs">25</text>
<text x="556.75" y="524.80" font-size="11.2" text-anchor="start" font-weight="normal" fill="#222"  textLength="15.50" lengthAdjust="spacingAndGlyphs">50</text>
<text x="602.25" y="524.80" font-size="11.2" text-anchor="start" font-weight="normal" fill="#222"  textLength="15.50" lengthAdjust="spacingAndGlyphs">75</text>
<text x="531.00" y="538.30" font-size="11.5" text-anchor="start" font-weight="normal" fill="#222"  textLength="66.00" lengthAdjust="spacingAndGlyphs">Time [min]</text>
<text x="415.10" y="302.80" font-size="11.5" text-anchor="start" font-weight="normal" fill="#1a1a1a"  textLength="57.70" lengthAdjust="spacingAndGlyphs">Unlabelled</text>
<text x="399.10" y="352.20" font-size="11.5" text-anchor="start" font-weight="normal" fill="#1a1a1a"  textLength="68.73" lengthAdjust="spacingAndGlyphs">MitoTracker</text>
<text x="467.98" y="347.71" font-size="5.75" text-anchor="start" font-weight="bold" fill="#1a1a1a"  textLength="6.72" lengthAdjust="spacingAndGlyphs">TM</text>
<text x="404.40" y="366.70" font-size="11.5" text-anchor="start" font-weight="normal" fill="#1a1a1a"  textLength="69.30" lengthAdjust="spacingAndGlyphs">Red CMXRos</text>
<text x="399.10" y="392.10" font-size="11.5" text-anchor="start" font-weight="normal" fill="#1a1a1a"  textLength="68.73" lengthAdjust="spacingAndGlyphs">MitoTracker</text>
<text x="467.98" y="387.62" font-size="5.75" text-anchor="start" font-weight="bold" fill="#1a1a1a"  textLength="6.72" lengthAdjust="spacingAndGlyphs">TM</text>
<text x="421.50" y="406.70" font-size="11.5" text-anchor="start" font-weight="normal" fill="#1a1a1a"  textLength="52.20" lengthAdjust="spacingAndGlyphs">Green FM</text>
<text x="398.50" y="441.90" font-size="11.5" text-anchor="start" font-weight="normal" fill="#1a1a1a"  textLength="69.27" lengthAdjust="spacingAndGlyphs">MitoTracker</text>
<text x="467.92" y="437.41" font-size="5.75" text-anchor="start" font-weight="bold" fill="#1a1a1a"  textLength="6.78" lengthAdjust="spacingAndGlyphs">TM</text>
<text x="404.00" y="456.10" font-size="11.5" text-anchor="start" font-weight="normal" fill="#1a1a1a"  textLength="69.70" lengthAdjust="spacingAndGlyphs">Red CMXRos</text>
<text x="398.50" y="481.80" font-size="11.5" text-anchor="start" font-weight="normal" fill="#1a1a1a"  textLength="69.27" lengthAdjust="spacingAndGlyphs">MitoTracker</text>
<text x="467.92" y="477.31" font-size="5.75" text-anchor="start" font-weight="bold" fill="#1a1a1a"  textLength="6.78" lengthAdjust="spacingAndGlyphs">TM</text>
<text x="421.00" y="496.20" font-size="11.5" text-anchor="start" font-weight="normal" fill="#1a1a1a"  textLength="52.70" lengthAdjust="spacingAndGlyphs">Green FM</text>
<text transform="translate(677.81,333.50) rotate(90)" font-size="11.5" font-weight="normal" fill="#1c1c1c" stroke="#1c1c1c" stroke-width="0.5" textLength="16.00" lengthAdjust="spacingAndGlyphs">No</text>
<text transform="translate(664.61,286.50) rotate(90)" font-size="11.5" font-weight="normal" fill="#1c1c1c" stroke="#1c1c1c" stroke-width="0.5" textLength="110.00" lengthAdjust="spacingAndGlyphs">fluorescence light</text>
<text transform="translate(653.41,311.00) rotate(90)" font-size="11.5" font-weight="normal" fill="#1c1c1c" stroke="#1c1c1c" stroke-width="0.5" textLength="61.00" lengthAdjust="spacingAndGlyphs">excitation</text>
<text transform="translate(666.31,424.50) rotate(90)" font-size="11.5" font-weight="normal" fill="#1c1c1c" stroke="#1c1c1c" stroke-width="0.5" textLength="75.80" lengthAdjust="spacingAndGlyphs">Excitation at</text>
<text transform="translate(654.01,438.50) rotate(90)" font-size="11.5" font-weight="normal" fill="#1c1c1c" stroke="#1c1c1c" stroke-width="0.5" textLength="46.30" lengthAdjust="spacingAndGlyphs">475 nm</text>
<text x="-1.20" y="580.30" font-size="18.7" text-anchor="start" font-weight="normal" fill="#000"  textLength="17.20" lengthAdjust="spacingAndGlyphs">d)</text>
<text x="22.10" y="580.30" font-size="18.7" text-anchor="start" font-weight="bold" fill="#000"  textLength="306.30" lengthAdjust="spacingAndGlyphs">MitoTracker impact on cell activity</text>
<text x="136.00" y="603.30" font-size="11.5" text-anchor="start" font-weight="bold" fill="#222"  textLength="17.20" lengthAdjust="spacingAndGlyphs">No</text>
<text x="57.20" y="617.00" font-size="11.5" text-anchor="start" font-weight="bold" fill="#222"  textLength="174.30" lengthAdjust="spacingAndGlyphs">fluorescence light excitation</text>
<text x="256.50" y="603.30" font-size="11.5" text-anchor="start" font-weight="bold" fill="#222"  textLength="77.20" lengthAdjust="spacingAndGlyphs">Excitation at</text>
<text x="271.30" y="617.00" font-size="11.5" text-anchor="start" font-weight="bold" fill="#222"  textLength="47.00" lengthAdjust="spacingAndGlyphs">475 nm</text>
<line x1="57.00" y1="766.30" x2="357.50" y2="766.30" stroke="#e4e4e4" stroke-width="1" />
<line x1="57.00" y1="771.95" x2="357.50" y2="771.95" stroke="#e4e4e4" stroke-width="1" />
<line x1="57.00" y1="778.26" x2="357.50" y2="778.26" stroke="#e4e4e4" stroke-width="1" />
<line x1="57.00" y1="785.42" x2="357.50" y2="785.42" stroke="#e4e4e4" stroke-width="1" />
<line x1="57.00" y1="793.68" x2="357.50" y2="793.68" stroke="#e4e4e4" stroke-width="1" />
<line x1="57.00" y1="803.45" x2="357.50" y2="803.45" stroke="#e4e4e4" stroke-width="1" />
<line x1="57.00" y1="815.41" x2="357.50" y2="815.41" stroke="#e4e4e4" stroke-width="1" />
<line x1="57.00" y1="830.83" x2="357.50" y2="830.83" stroke="#e4e4e4" stroke-width="1" />
<line x1="57.00" y1="852.56" x2="357.50" y2="852.56" stroke="#e4e4e4" stroke-width="1" />
<rect x="59.90" y="766.60" width="32.10" height="99.70" fill="#cccccc" stroke="none" stroke-width="0" />
<line x1="76.80" y1="750.20" x2="76.80" y2="785.30" stroke="#444" stroke-width="1.2" />
<line x1="74.50" y1="750.20" x2="79.10" y2="750.20" stroke="#444" stroke-width="1.2" />
<line x1="74.50" y1="785.30" x2="79.10" y2="785.30" stroke="#444" stroke-width="1.2" />
<rect x="127.90" y="744.70" width="31.50" height="121.60" fill="#cccccc" stroke="none" stroke-width="0" />
<line x1="144.00" y1="733.90" x2="144.00" y2="755.80" stroke="#444" stroke-width="1.2" />
<line x1="141.70" y1="733.90" x2="146.30" y2="733.90" stroke="#444" stroke-width="1.2" />
<line x1="141.70" y1="755.80" x2="146.30" y2="755.80" stroke="#444" stroke-width="1.2" />
<rect x="181.70" y="721.90" width="31.50" height="144.40" fill="#cccccc" stroke="none" stroke-width="0" />
<line x1="197.70" y1="708.80" x2="197.70" y2="732.40" stroke="#444" stroke-width="1.2" />
<line x1="195.40" y1="708.80" x2="200.00" y2="708.80" stroke="#444" stroke-width="1.2" />
<line x1="195.40" y1="732.40" x2="200.00" y2="732.40" stroke="#444" stroke-width="1.2" />
<rect x="253.10" y="776.20" width="31.60" height="90.10" fill="#43b39a" stroke="none" stroke-width="0" />
<line x1="269.90" y1="767.40" x2="269.90" y2="785.50" stroke="#444" stroke-width="1.2" />
<line x1="267.60" y1="767.40" x2="272.20" y2="767.40" stroke="#444" stroke-width="1.2" />
<line x1="267.60" y1="785.50" x2="272.20" y2="785.50" stroke="#444" stroke-width="1.2" />
<rect x="308.00" y="757.80" width="31.70" height="108.50" fill="#43b39a" stroke="none" stroke-width="0" />
<line x1="324.50" y1="746.10" x2="324.50" y2="770.70" stroke="#444" stroke-width="1.2" />
<line x1="322.20" y1="746.10" x2="326.80" y2="746.10" stroke="#444" stroke-width="1.2" />
<line x1="322.20" y1="770.70" x2="326.80" y2="770.70" stroke="#444" stroke-width="1.2" />
<circle cx="108.90" cy="725.70" r="1.4" fill="#cbcbcb" />
<circle cx="104.50" cy="746.40" r="1.4" fill="#cbcbcb" />
<circle cx="108.30" cy="760.70" r="1.4" fill="#cbcbcb" />
<circle cx="104.20" cy="766.30" r="1.4" fill="#cbcbcb" />
<circle cx="102.80" cy="772.40" r="1.4" fill="#cbcbcb" />
<circle cx="106.90" cy="783.50" r="1.4" fill="#cbcbcb" />
<circle cx="102.20" cy="785.30" r="1.4" fill="#cbcbcb" />
<circle cx="108.00" cy="802.80" r="1.4" fill="#cbcbcb" />
<circle cx="109.20" cy="814.20" r="1.4" fill="#cbcbcb" />
<circle cx="165.26" cy="725.69" r="1.4" fill="#cbcbcb" />
<circle cx="169.93" cy="727.15" r="1.4" fill="#cbcbcb" />
<circle cx="165.26" cy="728.61" r="1.4" fill="#cbcbcb" />
<circle cx="168.47" cy="734.45" r="1.4" fill="#cbcbcb" />
<circle cx="170.80" cy="735.33" r="1.4" fill="#cbcbcb" />
<circle cx="171.09" cy="737.96" r="1.4" fill="#cbcbcb" />
<circle cx="168.47" cy="743.21" r="1.4" fill="#cbcbcb" />
<circle cx="171.68" cy="746.13" r="1.4" fill="#cbcbcb" />
<circle cx="169.34" cy="747.88" r="1.4" fill="#cbcbcb" />
<circle cx="168.47" cy="750.22" r="1.4" fill="#cbcbcb" />
<circle cx="164.96" cy="753.43" r="1.4" fill="#cbcbcb" />
<circle cx="165.26" cy="758.39" r="1.4" fill="#cbcbcb" />
<circle cx="168.47" cy="758.39" r="1.4" fill="#cbcbcb" />
<circle cx="171.39" cy="758.39" r="1.4" fill="#cbcbcb" />
<circle cx="167.59" cy="767.45" r="1.4" fill="#cbcbcb" />
<circle cx="168.76" cy="767.45" r="1.4" fill="#cbcbcb" />
<circle cx="168.47" cy="799.27" r="1.4" fill="#cbcbcb" />
<circle cx="171.39" cy="799.27" r="1.4" fill="#cbcbcb" />
<circle cx="167.60" cy="696.30" r="1.4" fill="#cbcbcb" />
<circle cx="220.72" cy="663.94" r="1.4" fill="#cbcbcb" />
<circle cx="219.19" cy="696.57" r="1.4" fill="#cbcbcb" />
<circle cx="225.54" cy="709.70" r="1.4" fill="#cbcbcb" />
<circle cx="220.72" cy="716.49" r="1.4" fill="#cbcbcb" />
<circle cx="222.47" cy="720.21" r="1.4" fill="#cbcbcb" />
<circle cx="222.47" cy="723.94" r="1.4" fill="#cbcbcb" />
<circle cx="226.19" cy="725.69" r="1.4" fill="#cbcbcb" />
<circle cx="220.72" cy="730.51" r="1.4" fill="#cbcbcb" />
<circle cx="223.57" cy="733.35" r="1.4" fill="#cbcbcb" />
<circle cx="225.10" cy="734.89" r="1.4" fill="#cbcbcb" />
<circle cx="222.91" cy="736.64" r="1.4" fill="#cbcbcb" />
<circle cx="222.91" cy="740.36" r="1.4" fill="#cbcbcb" />
<circle cx="220.28" cy="746.93" r="1.4" fill="#cbcbcb" />
<circle cx="218.53" cy="748.68" r="1.4" fill="#cbcbcb" />
<circle cx="222.25" cy="751.31" r="1.4" fill="#cbcbcb" />
<circle cx="293.80" cy="742.92" r="1.35" fill="#43b39a" />
<circle cx="290.58" cy="760.15" r="1.35" fill="#43b39a" />
<circle cx="292.63" cy="759.27" r="1.35" fill="#43b39a" />
<circle cx="297.30" cy="759.27" r="1.35" fill="#43b39a" />
<circle cx="292.04" cy="762.19" r="1.35" fill="#43b39a" />
<circle cx="296.72" cy="762.19" r="1.35" fill="#43b39a" />
<circle cx="296.13" cy="767.45" r="1.35" fill="#43b39a" />
<circle cx="295.55" cy="772.41" r="1.35" fill="#43b39a" />
<circle cx="290.88" cy="776.20" r="1.35" fill="#43b39a" />
<circle cx="296.72" cy="775.62" r="1.35" fill="#43b39a" />
<circle cx="294.38" cy="779.71" r="1.35" fill="#43b39a" />
<circle cx="296.13" cy="784.96" r="1.35" fill="#43b39a" />
<circle cx="294.67" cy="786.13" r="1.35" fill="#43b39a" />
<circle cx="297.59" cy="792.85" r="1.35" fill="#43b39a" />
<circle cx="297.30" cy="794.89" r="1.35" fill="#43b39a" />
<circle cx="295.55" cy="798.69" r="1.35" fill="#43b39a" />
<circle cx="291.17" cy="805.40" r="1.35" fill="#43b39a" />
<circle cx="293.80" cy="806.57" r="1.35" fill="#43b39a" />
<circle cx="294.38" cy="857.37" r="1.35" fill="#43b39a" />
<circle cx="351.90" cy="722.48" r="1.35" fill="#43b39a" />
<circle cx="354.53" cy="725.40" r="1.35" fill="#43b39a" />
<circle cx="350.73" cy="731.53" r="1.35" fill="#43b39a" />
<circle cx="353.65" cy="732.12" r="1.35" fill="#43b39a" />
<circle cx="355.69" cy="732.99" r="1.35" fill="#43b39a" />
<circle cx="354.82" cy="737.37" r="1.35" fill="#43b39a" />
<circle cx="350.44" cy="739.42" r="1.35" fill="#43b39a" />
<circle cx="354.53" cy="746.13" r="1.35" fill="#43b39a" />
<circle cx="353.94" cy="751.09" r="1.35" fill="#43b39a" />
<circle cx="352.77" cy="753.43" r="1.35" fill="#43b39a" />
<circle cx="350.15" cy="769.49" r="1.35" fill="#43b39a" />
<circle cx="353.36" cy="774.74" r="1.35" fill="#43b39a" />
<circle cx="351.02" cy="777.37" r="1.35" fill="#43b39a" />
<circle cx="351.90" cy="787.30" r="1.35" fill="#43b39a" />
<circle cx="350.73" cy="794.31" r="1.35" fill="#43b39a" />
<circle cx="351.61" cy="799.56" r="1.35" fill="#43b39a" />
<circle cx="355.11" cy="799.56" r="1.35" fill="#43b39a" />
<circle cx="353.94" cy="801.31" r="1.35" fill="#43b39a" />
<circle cx="351.02" cy="814.74" r="1.35" fill="#43b39a" />
<circle cx="349.85" cy="848.91" r="1.35" fill="#43b39a" />
<line x1="57.10" y1="659.60" x2="57.10" y2="867.00" stroke="#000" stroke-width="1.5" />
<line x1="114.30" y1="659.60" x2="114.30" y2="867.00" stroke="#000" stroke-width="1.5" />
<line x1="232.00" y1="659.60" x2="232.00" y2="867.00" stroke="#000" stroke-width="1.5" />
<line x1="56.40" y1="866.30" x2="358.00" y2="866.30" stroke="#000" stroke-width="1.5" />
<text x="32.8" y="769.9" font-size="11.2" fill="#222" textLength="22.2" lengthAdjust="spacing">100</text>
<text x="40.4" y="807.0" font-size="11.2" fill="#222" textLength="14.6" lengthAdjust="spacing">50</text>
<text x="40.4" y="819.0" font-size="11.2" fill="#222" textLength="14.6" lengthAdjust="spacing">40</text>
<text x="40.4" y="834.4" font-size="11.2" fill="#222" textLength="14.6" lengthAdjust="spacing">30</text>
<text x="40.4" y="856.2" font-size="11.2" fill="#222" textLength="14.6" lengthAdjust="spacing">20</text>
<text transform="translate(19.8,861.5) rotate(-90)" font-size="11.7" fill="#111" textLength="207.3" lengthAdjust="spacingAndGlyphs">Cumulative cell activity at t=420 min [%]</text>
<text x="57.60" y="876.80" font-size="7.9" text-anchor="start" font-weight="normal" fill="#000" stroke="#000" stroke-width="0.15" textLength="36.60" lengthAdjust="spacingAndGlyphs">Unlabelled</text>
<text x="120.66" y="876.50" font-size="7.9" text-anchor="start" font-weight="normal" fill="#000" stroke="#000" stroke-width="0.15" textLength="44.21" lengthAdjust="spacingAndGlyphs">MitoTracker</text>
<text x="164.91" y="873.42" font-size="3.95" text-anchor="start" font-weight="bold" fill="#000"  textLength="4.39" lengthAdjust="spacingAndGlyphs">TM</text>
<text x="137.80" y="883.80" font-size="7.9" text-anchor="start" font-weight="normal" fill="#000" stroke="#000" stroke-width="0.15" textLength="13.40" lengthAdjust="spacingAndGlyphs">Red</text>
<text x="130.00" y="890.90" font-size="7.9" text-anchor="start" font-weight="normal" fill="#000" stroke="#000" stroke-width="0.15" textLength="29.00" lengthAdjust="spacingAndGlyphs">CMXRos</text>
<text x="175.66" y="876.50" font-size="7.9" text-anchor="start" font-weight="normal" fill="#000" stroke="#000" stroke-width="0.15" textLength="44.21" lengthAdjust="spacingAndGlyphs">MitoTracker</text>
<text x="219.91" y="873.42" font-size="3.95" text-anchor="start" font-weight="bold" fill="#000"  textLength="4.39" lengthAdjust="spacingAndGlyphs">TM</text>
<text x="188.70" y="883.80" font-size="7.9" text-anchor="start" font-weight="normal" fill="#000" stroke="#000" stroke-width="0.15" textLength="21.60" lengthAdjust="spacingAndGlyphs">Green</text>
<text x="194.40" y="890.90" font-size="7.9" text-anchor="start" font-weight="normal" fill="#000" stroke="#000" stroke-width="0.15" textLength="10.20" lengthAdjust="spacingAndGlyphs">FM</text>
<text x="247.56" y="876.50" font-size="7.9" text-anchor="start" font-weight="normal" fill="#000" stroke="#000" stroke-width="0.15" textLength="44.21" lengthAdjust="spacingAndGlyphs">MitoTracker</text>
<text x="291.81" y="873.42" font-size="3.95" text-anchor="start" font-weight="bold" fill="#000"  textLength="4.39" lengthAdjust="spacingAndGlyphs">TM</text>
<text x="264.70" y="883.80" font-size="7.9" text-anchor="start" font-weight="normal" fill="#000" stroke="#000" stroke-width="0.15" textLength="13.40" lengthAdjust="spacingAndGlyphs">Red</text>
<text x="256.90" y="890.90" font-size="7.9" text-anchor="start" font-weight="normal" fill="#000" stroke="#000" stroke-width="0.15" textLength="29.00" lengthAdjust="spacingAndGlyphs">CMXRos</text>
<text x="300.76" y="876.50" font-size="7.9" text-anchor="start" font-weight="normal" fill="#000" stroke="#000" stroke-width="0.15" textLength="44.21" lengthAdjust="spacingAndGlyphs">MitoTracker</text>
<text x="345.01" y="873.42" font-size="3.95" text-anchor="start" font-weight="bold" fill="#000"  textLength="4.39" lengthAdjust="spacingAndGlyphs">TM</text>
<text x="313.80" y="883.80" font-size="7.9" text-anchor="start" font-weight="normal" fill="#000" stroke="#000" stroke-width="0.15" textLength="21.60" lengthAdjust="spacingAndGlyphs">Green</text>
<text x="319.50" y="890.90" font-size="7.9" text-anchor="start" font-weight="normal" fill="#000" stroke="#000" stroke-width="0.15" textLength="10.20" lengthAdjust="spacingAndGlyphs">FM</text>
<line x1="71.50" y1="644.40" x2="140.40" y2="644.40" stroke="#777" stroke-width="1.25" />
<polygon points="105.00,638.40 105.41,639.78 106.85,639.75 105.67,640.57 106.15,641.93 105.00,641.05 103.85,641.93 104.33,640.57 103.15,639.75 104.59,639.78" fill="#000" stroke="#000" stroke-width="0.35" stroke-linejoin="round"/>
<line x1="71.50" y1="652.50" x2="193.20" y2="652.50" stroke="#777" stroke-width="1.25" />
<polygon points="128.57,647.20 128.98,648.58 130.42,648.55 129.24,649.37 129.72,650.73 128.57,649.85 127.42,650.73 127.90,649.37 126.72,648.55 128.16,648.58" fill="#000" stroke="#000" stroke-width="0.35" stroke-linejoin="round"/>
<polygon points="132.30,647.20 132.71,648.58 134.15,648.55 132.97,649.37 133.45,650.73 132.30,649.85 131.15,650.73 131.63,649.37 130.45,648.55 131.89,648.58" fill="#000" stroke="#000" stroke-width="0.35" stroke-linejoin="round"/>
<polygon points="136.03,647.20 136.44,648.58 137.88,648.55 136.70,649.37 137.18,650.73 136.03,649.85 134.88,650.73 135.36,649.37 134.18,648.55 135.62,648.58" fill="#000" stroke="#000" stroke-width="0.35" stroke-linejoin="round"/>
<line x1="139.40" y1="660.40" x2="193.30" y2="660.40" stroke="#777" stroke-width="1.25" />
<polygon points="165.50,654.80 165.91,656.18 167.35,656.15 166.17,656.97 166.65,658.33 165.50,657.45 164.35,658.33 164.83,656.97 163.65,656.15 165.09,656.18" fill="#000" stroke="#000" stroke-width="0.35" stroke-linejoin="round"/>
<line x1="143.30" y1="629.70" x2="269.60" y2="629.70" stroke="#b8b8b8" stroke-width="1.25" />
<polygon points="201.00,624.20 201.42,625.58 202.86,625.55 201.67,626.37 202.15,627.73 201.00,626.85 199.86,627.73 200.34,626.37 199.15,625.55 200.59,625.58" fill="#000" stroke="#000" stroke-width="0.35" stroke-linejoin="round"/>
<polygon points="204.73,624.20 205.15,625.58 206.59,625.55 205.40,626.37 205.88,627.73 204.73,626.85 203.59,627.73 204.07,626.37 202.88,625.55 204.32,625.58" fill="#000" stroke="#000" stroke-width="0.35" stroke-linejoin="round"/>
<polygon points="208.47,624.20 208.88,625.58 210.32,625.55 209.13,626.37 209.61,627.73 208.47,626.85 207.32,627.73 207.80,626.37 206.61,625.55 208.05,625.58" fill="#000" stroke="#000" stroke-width="0.35" stroke-linejoin="round"/>
<polygon points="212.19,624.20 212.61,625.58 214.05,625.55 212.86,626.37 213.34,627.73 212.19,626.85 211.05,627.73 211.53,626.37 210.34,625.55 211.78,625.58" fill="#000" stroke="#000" stroke-width="0.35" stroke-linejoin="round"/>
<line x1="197.60" y1="639.20" x2="269.60" y2="639.20" stroke="#777" stroke-width="1.25" />
<polygon points="226.71,633.40 227.12,634.78 228.56,634.75 227.37,635.57 227.85,636.93 226.71,636.05 225.56,636.93 226.04,635.57 224.85,634.75 226.29,634.78" fill="#000" stroke="#000" stroke-width="0.35" stroke-linejoin="round"/>
<polygon points="230.44,633.40 230.85,634.78 232.29,634.75 231.10,635.57 231.58,636.93 230.44,636.05 229.29,636.93 229.77,635.57 228.58,634.75 230.02,634.78" fill="#000" stroke="#000" stroke-width="0.35" stroke-linejoin="round"/>
<polygon points="234.17,633.40 234.58,634.78 236.02,634.75 234.83,635.57 235.31,636.93 234.17,636.05 233.02,636.93 233.50,635.57 232.31,634.75 233.75,634.78" fill="#000" stroke="#000" stroke-width="0.35" stroke-linejoin="round"/>
<polygon points="237.90,633.40 238.31,634.78 239.75,634.75 238.56,635.57 239.04,636.93 237.90,636.05 236.75,636.93 237.23,635.57 236.04,634.75 237.48,634.78" fill="#000" stroke="#000" stroke-width="0.35" stroke-linejoin="round"/>
<line x1="197.60" y1="647.60" x2="324.20" y2="647.60" stroke="#b8b8b8" stroke-width="1.25" />
<polygon points="259.03,642.60 259.45,643.98 260.89,643.95 259.70,644.77 260.18,646.13 259.03,645.25 257.89,646.13 258.37,644.77 257.18,643.95 258.62,643.98" fill="#000" stroke="#000" stroke-width="0.35" stroke-linejoin="round"/>
<polygon points="262.76,642.60 263.18,643.98 264.62,643.95 263.43,644.77 263.91,646.13 262.76,645.25 261.62,646.13 262.10,644.77 260.91,643.95 262.35,643.98" fill="#000" stroke="#000" stroke-width="0.35" stroke-linejoin="round"/>
<line x1="269.50" y1="657.50" x2="324.20" y2="657.50" stroke="#999" stroke-width="1.25" />
<polygon points="295.90,652.20 296.31,653.58 297.75,653.55 296.57,654.37 297.05,655.73 295.90,654.85 294.75,655.73 295.23,654.37 294.05,653.55 295.49,653.58" fill="#000" stroke="#000" stroke-width="0.35" stroke-linejoin="round"/>
</g>
</svg>
</body></html>
